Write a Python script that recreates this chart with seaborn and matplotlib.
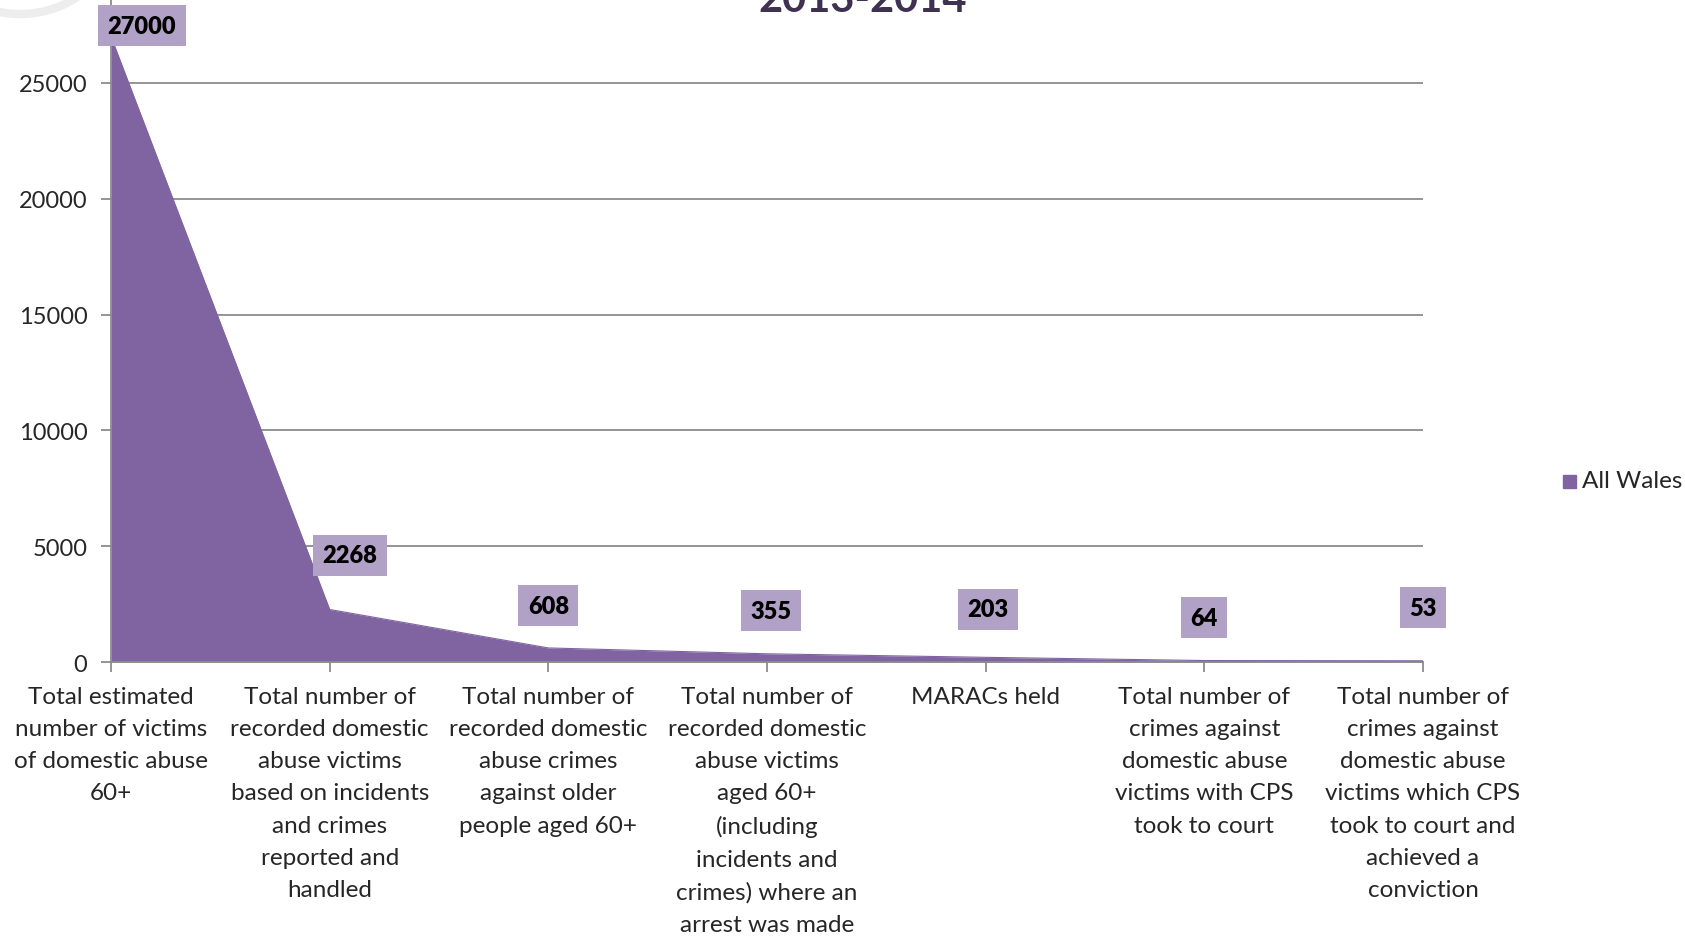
import numpy as np
import pandas as pd
import matplotlib
matplotlib.use('Agg')
import matplotlib.pyplot as plt
import seaborn as sns
from matplotlib.patches import Ellipse

# Data
categories = [
    'Total estimated\nnumber of victims\nof domestic abuse\n60+',
    'Total number of\nrecorded domestic\nabuse victims\nbased on incidents\nand crimes\nreported and\nhandled',
    'Total number of\nrecorded domestic\nabuse crimes\nagainst older\npeople aged 60+',
    'Total number of\nrecorded domestic\nabuse victims\naged 60+\n(including\nincidents and\ncrimes) where an\narrest was made',
    'MARACs held',
    'Total number of\ncrimes against\ndomestic abuse\nvictims with CPS\ntook to court',
    'Total number of\ncrimes against\ndomestic abuse\nvictims which CPS\ntook to court and\nachieved a\nconviction',
]
values = [27000, 2268, 608, 355, 203, 64, 53]
series_name = 'All Wales'
yticks = [0, 5000, 10000, 15000, 20000, 25000]

# label offsets in pixels (dx, dy) from each point
label_offsets = [(31, 11), (20, 54), (0, 42), (4, 43), (2, 48), (0, 43), (0, 53)]

df = pd.DataFrame({'pos': np.arange(len(values)), 'value': values})

sns.set_style('white')
plt.rcParams['font.family'] = ['Lato', 'DejaVu Sans']

purple = '#8064A2'
light = '#B2A1C7'
grid_c = '#8C8C8C'

fig = plt.figure(figsize=(16.85, 9.37), dpi=100)
ax = fig.add_axes([0.0659, 0.2924, 0.7786, 0.7416])

ax.fill_between(df['pos'], 0, df['value'], color=purple, lw=0, zorder=2)
sns.lineplot(data=df, x='pos', y='value', ax=ax, color=purple, lw=0.8, zorder=3)

ax.set_xlim(0, len(values) - 1)
ax.set_ylim(0, 30000)
ax.set_yticks(yticks)
ax.set_yticklabels([str(t) for t in yticks], fontsize=17)
ax.set_xticks(df['pos'])
ax.set_xticklabels(categories, fontsize=17.5, linespacing=1.66, va='top')
ax.set_xlabel('')
ax.set_ylabel('')
for t in yticks[1:]:
    ax.axhline(t, color=grid_c, lw=1.3, zorder=1)

for s in ['top', 'right']:
    ax.spines[s].set_visible(False)
ax.spines['left'].set_color(grid_c)
ax.spines['bottom'].set_color(grid_c)
ax.spines['left'].set_linewidth(1.3)
ax.spines['bottom'].set_linewidth(1.3)
ax.tick_params(axis='x', length=7, width=1.3, color=grid_c, pad=10, direction='out')
ax.tick_params(axis='y', length=7, width=1.3, color=grid_c, pad=10, direction='out')
ax.tick_params(left=True, bottom=True)

# data labels
for i, v in enumerate(values):
    dx, dy = label_offsets[i]
    ax.annotate(str(v), xy=(i, v), xytext=(dx * 0.72, dy * 0.72), textcoords='offset points',
                ha='center', va='center', fontsize=17, fontweight='heavy', color='black',
                bbox=dict(boxstyle='square,pad=0.4', fc=light, ec='none'), zorder=5,
                annotation_clip=False)

# legend
fig.patches.append(plt.Rectangle((1563 / 1685, 1 - 489 / 937), 13 / 1685, 13 / 937,
                                 transform=fig.transFigure, color=purple))
fig.text(1582 / 1685, 1 - 482 / 937, series_name, fontsize=17.5, va='center', ha='left')

# cropped title
fig.text(863 / 1685, 1 - 12 / 937, '2013-2014', fontsize=30, fontweight='bold',
         color='#3F3151', ha='center', va='baseline')

# decorative circle at top-left corner
fig.patches.append(Ellipse((20 / 1685, 1 + 60 / 937), 180 / 1685, 150 / 937,
                           transform=fig.transFigure, fc='none', ec='#EDEDED', lw=6))

fig.savefig('out.png', dpi=100)
